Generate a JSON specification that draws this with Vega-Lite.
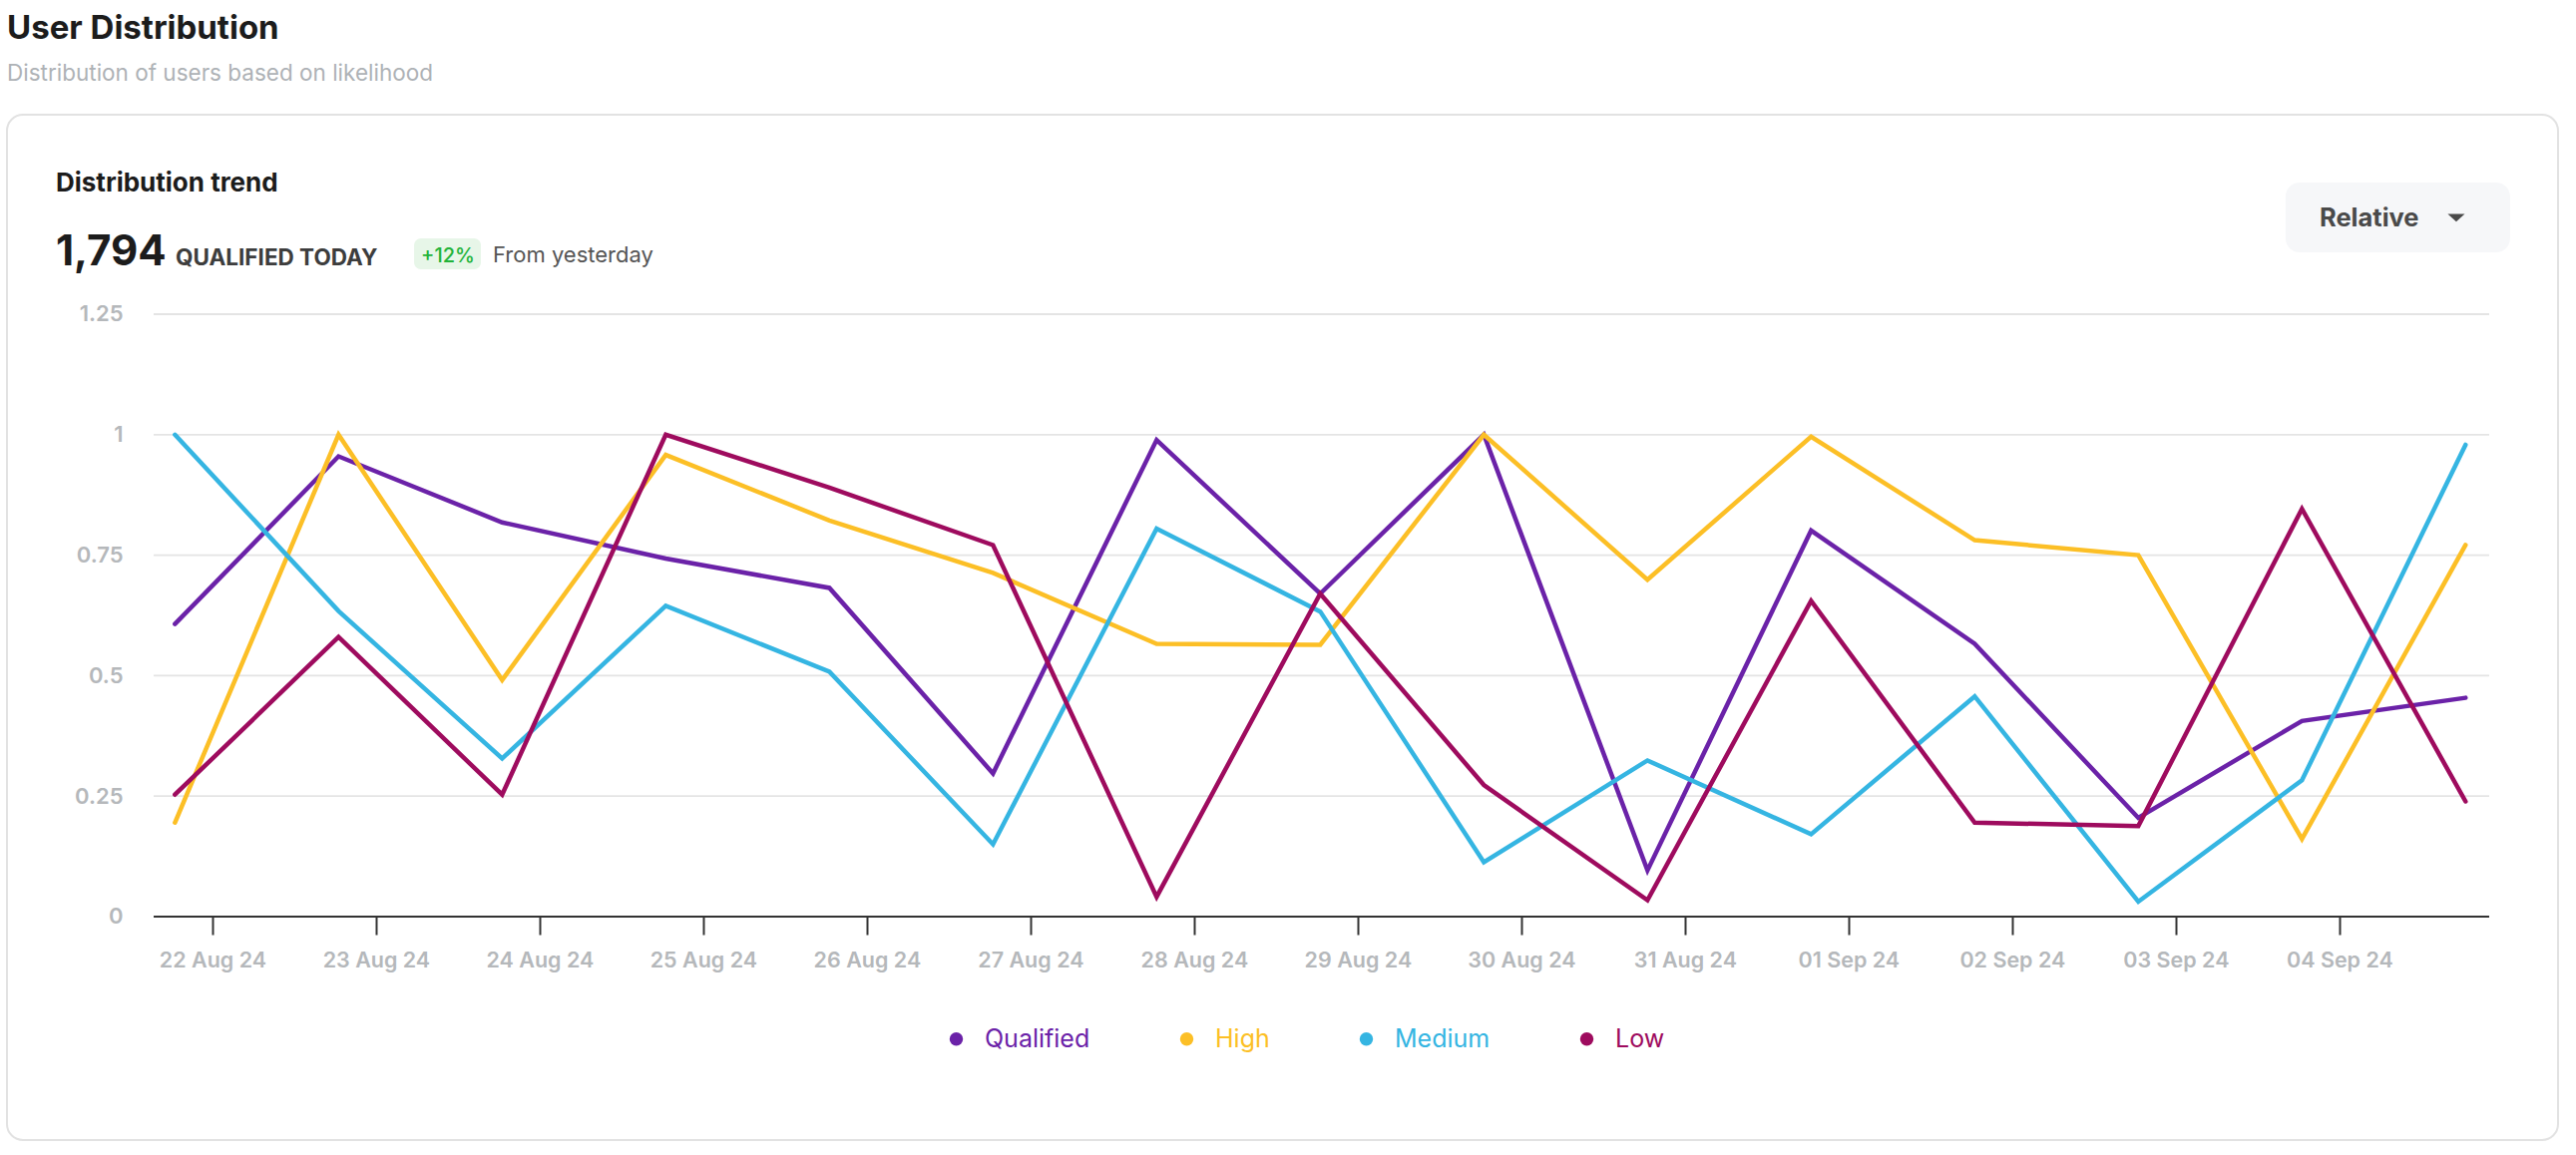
{
  "$schema": "https://vega.github.io/schema/vega-lite/v6.json",
  "width": 2557,
  "height": 1028,
  "autosize": {"type": "none"},
  "padding": {"left": 7, "top": 115, "right": 18, "bottom": 15},
  "background": "white",
  "title": {
    "text": "User Distribution",
    "subtitle": "Distribution of users based on likelihood",
    "anchor": "start",
    "frame": "group",
    "font": "Inter",
    "fontSize": 33,
    "fontWeight": "bold",
    "color": "#1c1c1c",
    "subtitleFont": "Inter",
    "subtitleFontSize": 22.5,
    "subtitleColor": "#aeb2b6",
    "subtitlePadding": 17,
    "offset": 30
  },
  "config": {
    "view": {"stroke": "#e2e2e2", "strokeWidth": 2, "cornerRadius": 16, "fill": "white"},
    "text": {"font": "Inter"}
  },
  "layer": [
    {
      "data": {"values": [{"k": "dropdown"}]},
      "mark": {"type": "rect", "fill": "#f6f7f9", "cornerRadius": 14},
      "encoding": {
        "x": {
          "datum": {"year": 2024, "month": 9, "date": 3, "hours": 16, "minutes": 6, "utc": true},
          "type": "temporal",
          "axis": {
            "orient": "bottom",
            "offset": -224,
            "values": [
              {"year": 2024, "month": 8, "date": 22, "utc": true},
              {"year": 2024, "month": 8, "date": 23, "utc": true},
              {"year": 2024, "month": 8, "date": 24, "utc": true},
              {"year": 2024, "month": 8, "date": 25, "utc": true},
              {"year": 2024, "month": 8, "date": 26, "utc": true},
              {"year": 2024, "month": 8, "date": 27, "utc": true},
              {"year": 2024, "month": 8, "date": 28, "utc": true},
              {"year": 2024, "month": 8, "date": 29, "utc": true},
              {"year": 2024, "month": 8, "date": 30, "utc": true},
              {"year": 2024, "month": 8, "date": 31, "utc": true},
              {"year": 2024, "month": 9, "date": 1, "utc": true},
              {"year": 2024, "month": 9, "date": 2, "utc": true},
              {"year": 2024, "month": 9, "date": 3, "utc": true},
              {"year": 2024, "month": 9, "date": 4, "utc": true}
            ],
            "format": "%d %b %y",
            "formatType": "utc",
            "labelExpr": "utcFormat(datum.value, '%d %b %y')",
            "title": null,
            "domain": false,
            "grid": false,
            "ticks": true,
            "tickSize": 18,
            "tickWidth": 2,
            "tickColor": "#333333",
            "labelPadding": 15,
            "labelFont": "Inter",
            "labelFontSize": 21.5,
            "labelFontWeight": 600,
            "labelColor": "#b5b8bb",
            "labelFlush": false,
            "labelOverlap": false,
            "labelBound": false
          }
        },
        "x2": {"datum": {"year": 2024, "month": 9, "date": 5, "hours": 1, "minutes": 2, "utc": true}},
        "y": {
          "datum": 1.5232,
          "type": "quantitative",
          "axis": {
            "orient": "left",
            "offset": -116,
            "values": [0, 0.25, 0.5, 0.75, 1, 1.25],
            "format": "~g",
            "labelExpr": "format(datum.value, '~g')",
            "title": null,
            "domain": false,
            "grid": false,
            "ticks": false,
            "tickSize": 0,
            "labelPadding": 0,
            "labelFont": "Inter",
            "labelFontSize": 22,
            "labelFontWeight": 600,
            "labelColor": "#b5b8bb"
          }
        },
        "y2": {"datum": 1.3783}
      }
    },
    {
      "data": {"values": [{"t": "Relative"}]},
      "mark": {"type": "text", "align": "left", "baseline": "alphabetic", "fontSize": 25.5, "fontWeight": "bold", "fill": "#4a4a4a"},
      "encoding": {
        "x": {"datum": {"year": 2024, "month": 9, "date": 3, "hours": 21, "minutes": 5, "utc": true}, "type": "temporal"},
        "y": {"datum": 1.4321, "type": "quantitative"},
        "text": {"field": "t"}
      }
    },
    {
      "data": {"values": [{"k": "caret"}]},
      "mark": {"type": "point", "shape": "M-1,-0.45L1,-0.45L0,0.45Z", "size": 290, "filled": true, "fill": "#4a4a4a", "opacity": 1, "strokeWidth": 0},
      "encoding": {
        "x": {"datum": {"year": 2024, "month": 9, "date": 4, "hours": 17, "minutes": 8, "utc": true}, "type": "temporal"},
        "y": {"datum": 1.4501, "type": "quantitative"}
      }
    },
    {
      "data": {"values": [{"t": "Distribution trend"}]},
      "mark": {"type": "text", "align": "left", "baseline": "alphabetic", "fontSize": 26, "fontWeight": "bold", "fill": "#1c1c1c"},
      "encoding": {
        "x": {"datum": {"year": 2024, "month": 8, "date": 21, "hours": 1, "minutes": 2, "utc": true}, "type": "temporal"},
        "y": {"datum": 1.5046, "type": "quantitative"},
        "text": {"field": "t"}
      }
    },
    {
      "data": {"values": [{"t": "1,794"}]},
      "mark": {"type": "text", "align": "left", "baseline": "alphabetic", "fontSize": 42, "fontWeight": "bold", "fill": "#1c1c1c"},
      "encoding": {
        "x": {"datum": {"year": 2024, "month": 8, "date": 21, "hours": 1, "minutes": 2, "utc": true}, "type": "temporal"},
        "y": {"datum": 1.3514, "type": "quantitative"},
        "text": {"field": "t"}
      }
    },
    {
      "data": {"values": [{"t": "QUALIFIED TODAY"}]},
      "mark": {"type": "text", "align": "left", "baseline": "alphabetic", "fontSize": 22.5, "fontWeight": "bold", "fill": "#3d3d3d"},
      "encoding": {
        "x": {"datum": {"year": 2024, "month": 8, "date": 21, "hours": 18, "minutes": 36, "utc": true}, "type": "temporal"},
        "y": {"datum": 1.3514, "type": "quantitative"},
        "text": {"field": "t"}
      }
    },
    {
      "data": {"values": [{"k": "badge"}]},
      "mark": {"type": "rect", "fill": "#e7f6e8", "cornerRadius": 7},
      "encoding": {
        "x": {"datum": {"year": 2024, "month": 8, "date": 23, "hours": 5, "minutes": 35, "utc": true}, "type": "temporal"},
        "x2": {"datum": {"year": 2024, "month": 8, "date": 23, "hours": 15, "minutes": 23, "utc": true}},
        "y": {"datum": 1.4073, "type": "quantitative"},
        "y2": {"datum": 1.3432}
      }
    },
    {
      "data": {"values": [{"t": "+12%"}]},
      "mark": {"type": "text", "align": "center", "baseline": "alphabetic", "fontSize": 20, "fontWeight": 500, "fill": "#22b33a"},
      "encoding": {
        "x": {"datum": {"year": 2024, "month": 8, "date": 23, "hours": 10, "minutes": 33, "utc": true}, "type": "temporal"},
        "y": {"datum": 1.3576, "type": "quantitative"},
        "text": {"field": "t"}
      }
    },
    {
      "data": {"values": [{"t": "From yesterday"}]},
      "mark": {"type": "text", "align": "left", "baseline": "alphabetic", "fontSize": 22, "fill": "#555555"},
      "encoding": {
        "x": {"datum": {"year": 2024, "month": 8, "date": 23, "hours": 17, "minutes": 8, "utc": true}, "type": "temporal"},
        "y": {"datum": 1.3576, "type": "quantitative"},
        "text": {"field": "t"}
      }
    },
    {
      "data": {"values": [{"g": 0.25}, {"g": 0.5}, {"g": 0.75}, {"g": 1}, {"g": 1.25}]},
      "mark": {"type": "rule", "stroke": "#e4e4e4", "strokeWidth": 1.8},
      "encoding": {
        "x": {"datum": {"year": 2024, "month": 8, "date": 21, "hours": 15, "minutes": 23, "utc": true}, "type": "temporal"},
        "x2": {"datum": {"year": 2024, "month": 9, "date": 4, "hours": 21, "minutes": 58, "utc": true}},
        "y": {"field": "g", "type": "quantitative"}
      }
    },
    {
      "data": {"values": [{"g": 0}]},
      "mark": {"type": "rule", "stroke": "#333333", "strokeWidth": 2.2},
      "encoding": {
        "x": {"datum": {"year": 2024, "month": 8, "date": 21, "hours": 15, "minutes": 23, "utc": true}, "type": "temporal"},
        "x2": {"datum": {"year": 2024, "month": 9, "date": 4, "hours": 21, "minutes": 58, "utc": true}},
        "y": {"field": "g", "type": "quantitative"}
      }
    },
    {
      "data": {
        "values": [
          {"date": "2024-08-21T18:30:00Z", "Qualified": 0.607, "High": 0.195, "Medium": 1.0, "Low": 0.253},
          {"date": "2024-08-22T18:30:00Z", "Qualified": 0.955, "High": 1.0, "Medium": 0.634, "Low": 0.58},
          {"date": "2024-08-23T18:30:00Z", "Qualified": 0.818, "High": 0.491, "Medium": 0.328, "Low": 0.253},
          {"date": "2024-08-24T18:30:00Z", "Qualified": 0.743, "High": 0.958, "Medium": 0.645, "Low": 1.0},
          {"date": "2024-08-25T18:30:00Z", "Qualified": 0.682, "High": 0.822, "Medium": 0.508, "Low": 0.89},
          {"date": "2024-08-26T18:30:00Z", "Qualified": 0.297, "High": 0.713, "Medium": 0.15, "Low": 0.771},
          {"date": "2024-08-27T18:30:00Z", "Qualified": 0.989, "High": 0.566, "Medium": 0.805, "Low": 0.041},
          {"date": "2024-08-28T18:30:00Z", "Qualified": 0.67, "High": 0.564, "Medium": 0.633, "Low": 0.67},
          {"date": "2024-08-29T18:30:00Z", "Qualified": 1.0, "High": 1.0, "Medium": 0.113, "Low": 0.273},
          {"date": "2024-08-30T18:30:00Z", "Qualified": 0.096, "High": 0.699, "Medium": 0.324, "Low": 0.034},
          {"date": "2024-08-31T18:30:00Z", "Qualified": 0.801, "High": 0.996, "Medium": 0.171, "Low": 0.655},
          {"date": "2024-09-01T18:30:00Z", "Qualified": 0.566, "High": 0.781, "Medium": 0.457, "Low": 0.195},
          {"date": "2024-09-02T18:30:00Z", "Qualified": 0.205, "High": 0.75, "Medium": 0.031, "Low": 0.188},
          {"date": "2024-09-03T18:30:00Z", "Qualified": 0.406, "High": 0.161, "Medium": 0.283, "Low": 0.846},
          {"date": "2024-09-04T18:30:00Z", "Qualified": 0.454, "High": 0.771, "Medium": 0.979, "Low": 0.239}
        ]
      },
      "transform": [{"fold": ["Qualified", "High", "Medium", "Low"], "as": ["series", "value"]}],
      "mark": {"type": "line", "strokeWidth": 4.5, "strokeCap": "round", "strokeJoin": "miter"},
      "encoding": {
        "x": {
          "field": "date",
          "type": "temporal",
          "scale": {
            "type": "utc",
            "domain": [
              {"year": 2024, "month": 8, "date": 20, "hours": 17, "minutes": 52, "utc": true},
              {"year": 2024, "month": 9, "date": 5, "hours": 8, "minutes": 4, "utc": true}
            ]
          },
          "axis": {
            "orient": "bottom",
            "offset": -224,
            "values": [
              {"year": 2024, "month": 8, "date": 22, "utc": true},
              {"year": 2024, "month": 8, "date": 23, "utc": true},
              {"year": 2024, "month": 8, "date": 24, "utc": true},
              {"year": 2024, "month": 8, "date": 25, "utc": true},
              {"year": 2024, "month": 8, "date": 26, "utc": true},
              {"year": 2024, "month": 8, "date": 27, "utc": true},
              {"year": 2024, "month": 8, "date": 28, "utc": true},
              {"year": 2024, "month": 8, "date": 29, "utc": true},
              {"year": 2024, "month": 8, "date": 30, "utc": true},
              {"year": 2024, "month": 8, "date": 31, "utc": true},
              {"year": 2024, "month": 9, "date": 1, "utc": true},
              {"year": 2024, "month": 9, "date": 2, "utc": true},
              {"year": 2024, "month": 9, "date": 3, "utc": true},
              {"year": 2024, "month": 9, "date": 4, "utc": true}
            ],
            "format": "%d %b %y",
            "formatType": "utc",
            "labelExpr": "utcFormat(datum.value, '%d %b %y')",
            "title": null,
            "domain": false,
            "grid": false,
            "ticks": true,
            "tickSize": 18,
            "tickWidth": 2,
            "tickColor": "#333333",
            "labelPadding": 15,
            "labelFont": "Inter",
            "labelFontSize": 21.5,
            "labelFontWeight": 600,
            "labelColor": "#b5b8bb",
            "labelFlush": false,
            "labelOverlap": false,
            "labelBound": false
          }
        },
        "y": {
          "field": "value",
          "type": "quantitative",
          "scale": {"domain": [-0.4636, 1.6639], "nice": false, "zero": false},
          "axis": {
            "orient": "left",
            "offset": -116,
            "values": [0, 0.25, 0.5, 0.75, 1, 1.25],
            "format": "~g",
            "labelExpr": "format(datum.value, '~g')",
            "title": null,
            "domain": false,
            "grid": false,
            "ticks": false,
            "tickSize": 0,
            "labelPadding": 0,
            "labelFont": "Inter",
            "labelFontSize": 22,
            "labelFontWeight": 600,
            "labelColor": "#b5b8bb"
          }
        },
        "color": {
          "field": "series",
          "type": "nominal",
          "scale": {"domain": ["Qualified", "High", "Medium", "Low"], "range": ["#6b22a8", "#fcbf26", "#35b5e2", "#9e0b5e"]},
          "legend": {
            "orient": "none",
            "legendX": 939,
            "legendY": 914,
            "direction": "horizontal",
            "title": null,
            "padding": 0,
            "symbolType": "circle",
            "symbolSize": 180,
            "symbolStrokeWidth": 0,
            "labelFont": "Inter",
            "labelFontSize": 25,
            "labelOffset": 16,
            "columnPadding": 84,
            "encode": {
              "symbols": {"update": {"fill": {"scale": "color", "field": "value"}, "stroke": {"scale": "color", "field": "value"}, "strokeWidth": {"value": 0}, "opacity": {"value": 1}}},
              "labels": {"update": {"fill": {"scale": "color", "field": "value"}}}
            }
          }
        }
      }
    }
  ]
}
